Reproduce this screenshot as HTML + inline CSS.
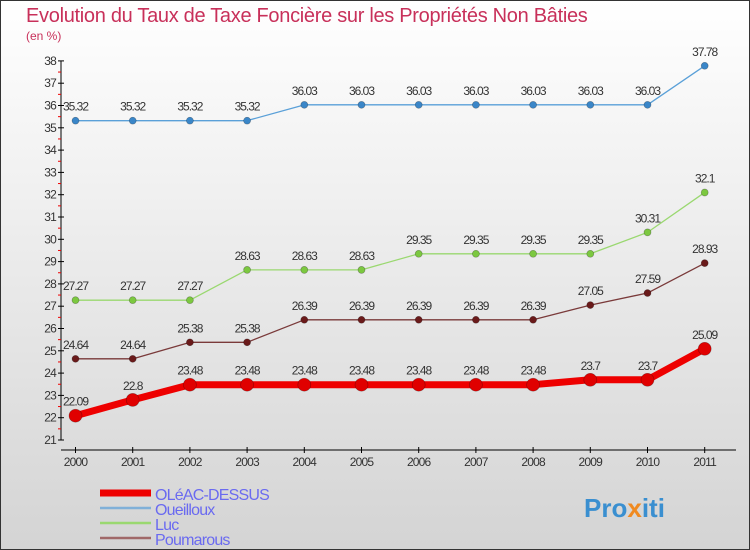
<!DOCTYPE html>
<html><head><meta charset="utf-8"><style>
body{margin:0}
svg{display:block;font-family:"Liberation Sans",sans-serif}
</style></head><body>
<svg width="750" height="550" viewBox="0 0 750 550">
<defs><linearGradient id="bg" x1="0" y1="0" x2="0" y2="1"><stop offset="0" stop-color="#ffffff"/><stop offset="1" stop-color="#d4d4d4"/></linearGradient></defs>
<rect x="0.5" y="0.5" width="749" height="549" fill="url(#bg)" stroke="#333"/>
<text x="26" y="22" font-size="20" fill="#c8305a" letter-spacing="-0.3">Evolution du Taux de Taxe Foncière sur les Propriétés Non Bâties</text>
<text x="26" y="40" font-size="12" fill="#c8305a">(en %)</text>
<g id="axes"></g>
<g id="series"></g>
<g id="legend"></g>
<text x="584" y="517" font-size="26" font-weight="bold" fill="#3a8fd0">Pro<tspan fill="#f08a20">x</tspan>iti</text>
</svg>
<script>
const years=[2000,2001,2002,2003,2004,2005,2006,2007,2008,2009,2010,2011];
const yTicks=[21,22,23,24,25,26,27,28,29,30,31,32,33,34,35,36,37,38];
const oleac=[22.09,22.8,23.48,23.48,23.48,23.48,23.48,23.48,23.48,23.7,23.7,25.09];
const oleacLabels=["22.09","22.8","23.48","23.48","23.48","23.48","23.48","23.48","23.48","23.7","23.7","25.09"];
const oueilloux=[35.32,35.32,35.32,35.32,36.03,36.03,36.03,36.03,36.03,36.03,36.03,37.78];
const oueillouxLabels=["35.32","35.32","35.32","35.32","36.03","36.03","36.03","36.03","36.03","36.03","36.03","37.78"];
const luc=[27.27,27.27,27.27,28.63,28.63,28.63,29.35,29.35,29.35,29.35,30.31,32.1];
const lucLabels=["27.27","27.27","27.27","28.63","28.63","28.63","29.35","29.35","29.35","29.35","30.31","32.1"];
const poumarous=[24.64,24.64,25.38,25.38,26.39,26.39,26.39,26.39,26.39,27.05,27.59,28.93];
const poumarousLabels=["24.64","24.64","25.38","25.38","26.39","26.39","26.39","26.39","26.39","27.05","27.59","28.93"];
const seriesNames=["OLéAC-DESSUS","Oueilloux","Luc","Poumarous"];

const NS="http://www.w3.org/2000/svg";
const X=i=>75.5+i*57.2;
const Y=v=>440-(v-21)*22.3;
function mk(tag,attrs,parent,text){const e=document.createElementNS(NS,tag);for(const k in attrs)e.setAttribute(k,attrs[k]);if(text!==undefined)e.textContent=text;parent.appendChild(e);return e;}
const axes=document.getElementById('axes');
let ya=mk('line',{x1:61,y1:Y(38),x2:61,y2:Y(21),stroke:'#000'},axes);


yTicks.forEach(t=>{
  mk('line',{x1:58,y1:Y(t),x2:64,y2:Y(t),stroke:'#000'},axes);
  if(t<38)mk('line',{x1:58,y1:Y(t+0.5),x2:61,y2:Y(t+0.5),stroke:'#e00'},axes);
  let l=mk('text',{x:56,y:Y(t)+4,'text-anchor':'end','font-size':12,fill:'#333','letter-spacing':'-0.8'},axes,String(t));
  
  
});
let xa=mk('line',{x1:61,y1:450,x2:736,y2:450,stroke:'#000'},axes);


years.forEach((yr,i)=>{
  mk('line',{x1:X(i),y1:447,x2:X(i),y2:453,stroke:'#000'},axes);
  let l=mk('text',{x:X(i),y:466,'text-anchor':'middle','font-size':12,fill:'#333','letter-spacing':'-0.8'},axes,String(yr));
  
  
});
const sg=document.getElementById('series');
function draw(vals,labels,color,dot,w,r,name){
  const g=mk('g',{},sg);
  
  
  const p=mk('polyline',{points:vals.map((v,i)=>X(i)+','+Y(v)).join(' '),fill:'none',stroke:color,'stroke-width':w,'stroke-linejoin':'round'},g);
  
  
  vals.forEach((v,i)=>{
    const c=mk('circle',{cx:X(i),cy:Y(v),r:r,fill:dot,stroke:'rgba(0,0,0,0.3)','stroke-width':0.7},g);
    
    
    const t=mk('text',{x:X(i),y:Y(v)-10,'text-anchor':'middle','font-size':12,fill:'#333','letter-spacing':'-1'},g,labels[i]);
    
    
  });
}
draw(poumarous,poumarousLabels,'#7a3a3a','#6a1a1a',1.3,3.5,'poumarous');
draw(luc,lucLabels,'#9ad870','#7cc840',1.3,3.5,'luc');
draw(oueilloux,oueillouxLabels,'#5aa0d8','#3a86c8',1.3,3.5,'oueilloux');
draw(oleac,oleacLabels,'#ee0000','#e00000',7,6.5,'oleac-dessus');
const lg=document.getElementById('legend');
const lc=['#ee0000','#80b0d8','#9ad870','#a06868'];
const lw=[7,2.5,2.5,2.5];
seriesNames.forEach((n,i)=>{
  const y=493+i*15;
  const g=mk('g',{},lg);
  
  
  mk('line',{x1:100,y1:y,x2:151,y2:y,stroke:lc[i],'stroke-width':lw[i]},g);
  mk('text',{x:155,y:y+7,'font-size':16,fill:'#6a6af0','letter-spacing':'-0.8'},g,n);
});
</script>
</body></html>
